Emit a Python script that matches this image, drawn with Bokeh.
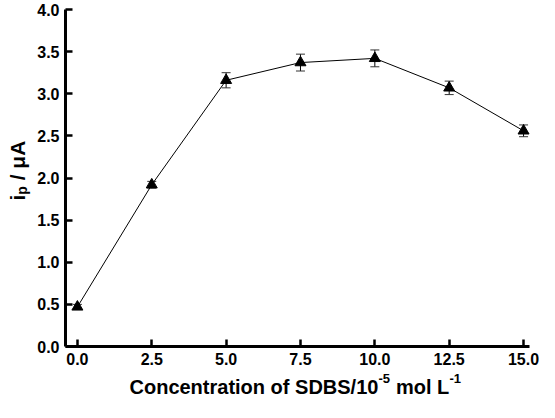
import math
from bokeh.plotting import figure
from bokeh.models import (Range1d, FixedTicker, PrintfTickFormatter,
                          ColumnDataSource, Label)
from bokeh.embed import file_html
from bokeh.resources import INLINE

# ---- data ----
conc = [0.0, 2.5, 5.0, 7.5, 10.0, 12.5, 15.0]
ip = [0.47, 1.92, 3.16, 3.37, 3.42, 3.07, 2.56]
err = [0.03, 0.04, 0.09, 0.10, 0.10, 0.08, 0.07]
x_ticks = [0.0, 2.5, 5.0, 7.5, 10.0, 12.5, 15.0]
y_ticks = [0.0, 0.5, 1.0, 1.5, 2.0, 2.5, 3.0, 3.5, 4.0]
x_bounds = (-0.4, 15.2)
y_bounds = (0.0, 4.0)

FONT = "Liberation Sans"
W, H = 539, 400
# pixel geometry of the plotting area inside the canvas
PX_LEFT, PX_RIGHT, PX_TOP, PX_BOTTOM = 65, 529, 9, 346
sx = (PX_RIGHT - PX_LEFT) / (x_bounds[1] - x_bounds[0])
sy = (PX_BOTTOM - PX_TOP) / (y_bounds[1] - y_bounds[0])
xr = Range1d(x_bounds[0] - PX_LEFT / sx, x_bounds[1] + (W - PX_RIGHT) / sx)
yr = Range1d(y_bounds[0] - (H - PX_BOTTOM) / sy, y_bounds[1] + PX_TOP / sy)

src = ColumnDataSource(dict(
    x=conc, y=ip,
    lo=[v - e for v, e in zip(ip, err)],
    hi=[v + e for v, e in zip(ip, err)],
))

p = figure(width=W, height=H, x_range=xr, y_range=yr,
           output_backend="svg", toolbar_location=None,
           min_border_left=0, min_border_right=0,
           min_border_top=0, min_border_bottom=0)
p.outline_line_color = None
p.xgrid.visible = False
p.ygrid.visible = False
p.background_fill_color = "white"
p.border_fill_color = "white"

for ax, ticks, b in ((p.xaxis[0], x_ticks, x_bounds), (p.yaxis[0], y_ticks, y_bounds)):
    ax.ticker = FixedTicker(ticks=ticks)
    ax.formatter = PrintfTickFormatter(format="%.1f")
    ax.bounds = b
    ax.axis_line_width = 3
    ax.axis_line_color = "black"
    ax.major_tick_in = 7
    ax.major_tick_out = 0
    ax.major_tick_line_width = 2.5
    ax.major_tick_line_color = "black"
    ax.minor_tick_line_color = None
    ax.major_label_text_font = FONT
    ax.major_label_text_font_style = "bold"
    ax.major_label_text_font_size = "16px"
    ax.major_label_text_color = "black"
    ax.major_label_standoff = 6
p.xaxis[0].fixed_location = y_bounds[0]
p.yaxis[0].fixed_location = x_bounds[0]

# error bars drawn as glyphs
p.segment(x0="x", y0="lo", x1="x", y1="hi", source=src,
          line_color="black", line_width=1)
p.scatter("x", "lo", source=src, marker="dash", size=9,
          line_color="#333333", line_width=1)
p.scatter("x", "hi", source=src, marker="dash", size=9,
          line_color="#333333", line_width=1)
p.line("x", "y", source=src, line_color="black", line_width=1)
p.scatter("x", "y", source=src, marker="triangle", size=11,
          fill_color="black", line_color="black")

# ---- x axis title with superscripts ----
x0 = x_bounds[0]
base_off = -40
pieces = [("Concentration of SDBS/10", 64, 0, "20px"),
          ("-5", 313.0, 8, "13px"),
          ("mol L", 330.5, 0, "20px"),
          ("-1", 384.0, 8, "13px")]
for txt, xo, yo, fs in pieces:
    p.add_layout(Label(x=x0, y=y_bounds[0], x_offset=xo, y_offset=base_off + yo,
                       text=txt, text_font=FONT, text_font_style="bold",
                       text_font_size=fs, text_color="black",
                       text_align="left", text_baseline="alphabetic"))

# ---- y axis title: i_p / μA (rotated) ----
yl = [("i", 0, 0, "21px"), ("p", 5.8, 4, "14px"), ("/ \u03bcA", 20.2, 0, "21px")]
for txt, yo, xo, fs in yl:
    p.add_layout(Label(x=x0, y=y_bounds[0], x_offset=-48 + xo, y_offset=146 + yo,
                       angle=math.pi / 2, text=txt, text_font=FONT,
                       text_font_style="bold", text_font_size=fs,
                       text_color="black", text_align="left",
                       text_baseline="alphabetic"))

open("out.html", "w").write(file_html(p, INLINE))
